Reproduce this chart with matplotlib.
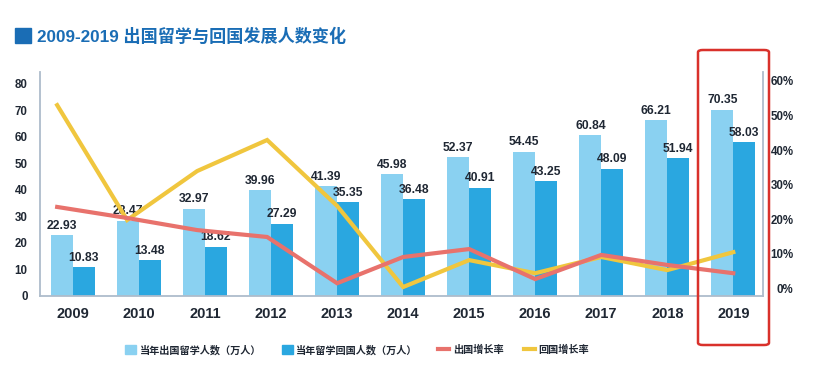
import numpy as np
import matplotlib
matplotlib.use('Agg')
import matplotlib.pyplot as plt
from matplotlib.patches import Patch, Rectangle, FancyBboxPatch
from matplotlib.lines import Line2D

plt.rcParams['font.family'] = ['Liberation Sans', 'Noto Sans CJK SC']

years = ['2009', '2010', '2011', '2012', '2013', '2014', '2015', '2016', '2017', '2018', '2019']
outbound = [22.93, 28.47, 32.97, 39.96, 41.39, 45.98, 52.37, 54.45, 60.84, 66.21, 70.35]
returned = [10.83, 13.48, 18.62, 27.29, 35.35, 36.48, 40.91, 43.25, 48.09, 51.94, 58.03]
out_growth = [23.5, 20.3, 16.8, 14.8, 1.4, 9.0, 11.3, 2.6, 9.6, 6.7, 4.3]
ret_growth = [53.0, 19.7, 33.9, 42.9, 23.8, 0.3, 8.1, 4.3, 9.0, 5.2, 10.4]

light = '#8ad1f1'
dark = '#2aa7e0'
red = '#e8726c'
yellow = '#f0c63e'
txt = '#1f2733'
spine_c = '#aebccb'

fig = plt.figure(figsize=(8.15, 3.77), dpi=100)
ax = fig.add_axes([40 / 815, 1 - 296 / 377, 723 / 815, 224 / 377])
ax2 = ax.twinx()

x = np.arange(len(years))
w = 0.33
ax.bar(x - w / 2, outbound, w, color=light, zorder=2)
ax.bar(x + w / 2, returned, w, color=dark, zorder=2)
for xi, v in zip(x - w / 2, outbound):
    ax.text(xi, v + 1.2, f'{v:.2f}', ha='center', va='bottom', fontsize=8.7,
            fontweight='bold', color=txt, zorder=5)
for xi, v in zip(x + w / 2, returned):
    ax.text(xi, v + 1.2, f'{v:.2f}', ha='center', va='bottom', fontsize=8.7,
            fontweight='bold', color=txt, zorder=5)

# lines sit a little left of the group centre at the start
xl = x + np.minimum(0, (x - 4) * 0.06)
ax2.plot(xl, ret_growth, color=yellow, lw=3, solid_joinstyle='miter', zorder=3)
ax2.plot(xl, out_growth, color=red, lw=3, solid_joinstyle='miter', zorder=3)

ax.set_xlim(-0.5, 10.45)
ax.set_ylim(0, 84.5)
ax2.set_ylim(-2.3, 62.6)

ax.set_xticks(x)
ax.set_xticklabels(years, fontsize=10.5, fontweight='bold', color=txt)
ax.set_yticks(np.arange(0, 90, 10))
ax.set_yticklabels([str(v) for v in range(0, 90, 10)], fontsize=8.3, fontweight='bold', color=txt)
ax2.set_yticks(np.arange(0, 70, 10))
ax2.set_yticklabels([f'{v}%' for v in range(0, 70, 10)], fontsize=8.3, fontweight='bold',
                    color=txt, ha='right')
ax.tick_params(axis='x', length=0, pad=8)
ax.tick_params(axis='y', length=0, pad=9)
ax2.tick_params(axis='y', length=0, pad=22)

for a in (ax, ax2):
    a.spines['top'].set_visible(False)
    for s in ('left', 'bottom', 'right'):
        a.spines[s].set_color(spine_c)
        a.spines[s].set_linewidth(1.3)
ax.spines['right'].set_visible(False)
ax2.spines['left'].set_visible(False)
ax2.spines['bottom'].set_visible(False)

# title
fig.patches.append(Rectangle((15 / 815, 1 - 43 / 377), 16 / 815, 15 / 377,
                             transform=fig.transFigure, color='#1a6db5'))
fig.text(37 / 815, 1 - 36 / 377, '2009-2019 出国留学与回国发展人数变化', fontsize=12.3,
         fontweight='bold', color='#1a6db5', va='center', ha='left')

# legend
handles = [Patch(color=light), Patch(color=dark),
           Line2D([], [], color=red, lw=3), Line2D([], [], color=yellow, lw=3)]
labels = ['当年出国留学人数（万人）', '当年留学回国人数（万人）', '出国增长率', '回国增长率']
fig.legend(handles, labels, loc='center', bbox_to_anchor=(0.438, 1 - 350 / 377), ncol=4,
           frameon=False, prop={'size': 7.3, 'weight': 'bold'}, handlelength=1.1,
           handleheight=1.0, handletextpad=0.35, columnspacing=2.0, labelcolor=txt)

# highlight box around 2019
fig.patches.append(FancyBboxPatch((698 / 815, 1 - 345 / 377), 71 / 815, 295 / 377,
                                  boxstyle='round,pad=0,rounding_size=0.006',
                                  transform=fig.transFigure, fill=False,
                                  edgecolor='#d9312b', lw=1.8, zorder=10))

fig.savefig('out.png', dpi=100)
